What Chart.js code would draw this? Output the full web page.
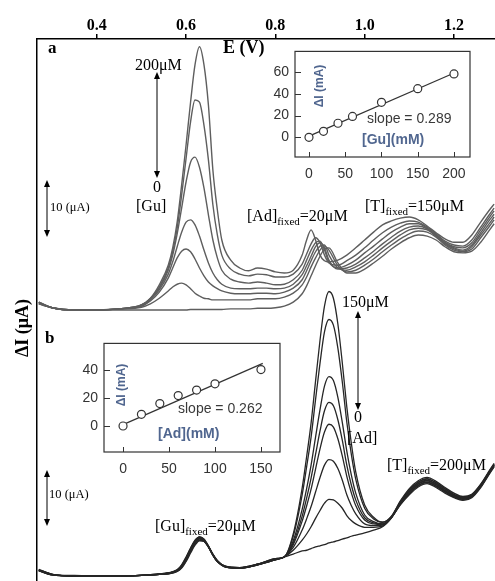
<!DOCTYPE html>
<html><head><meta charset="utf-8">
<script src="https://cdn.jsdelivr.net/npm/chart.js@4.4.1/dist/chart.umd.min.js"></script>
<style>
html,body{margin:0;padding:0;background:#fff;}
#wrap{position:relative;width:495px;height:581px;overflow:hidden;background:#fff;}
canvas{position:absolute;}
</style></head><body>
<div id="wrap">
<canvas id="main" width="495" height="581" style="left:0;top:0;width:495px;height:581px"></canvas>
<canvas id="insA" width="218" height="150" style="left:262px;top:37px;width:218px;height:150px"></canvas>
<canvas id="insB" width="219" height="153" style="left:71px;top:329px;width:219px;height:153px"></canvas>
</div>
<script>
// ---------- tick labels ----------
const eTicks = [0.4, 0.6, 0.8, 1.0, 1.2];
const insetAXTicks = [0, 50, 100, 150, 200];
const insetAYTicks = [0, 20, 40, 60];
const insetBXTicks = [0, 50, 100, 150];
const insetBYTicks = [0, 20, 40];

// ---------- panel a : potential (V) and ΔI (μA) for [Gu] additions ----------
const potentialA = [0.27,0.30,0.35,0.40,0.45,0.50,0.52,0.54,0.56,0.57,0.58,0.59,0.60,0.61,0.62,0.63,0.64,0.65,0.66,0.67,0.68,0.70,0.72,0.74,0.76,0.78,0.80,0.82,0.84,0.86,0.87,0.88,0.89,0.90,0.91,0.92,0.94,0.96,0.98,1.00,1.02,1.04,1.06,1.08,1.10,1.12,1.14,1.16,1.18,1.20,1.22,1.24,1.26,1.28,1.29];
const guLabels = ['0','20','40','60','100','150','200'];
const gu0   = [1.1,0.4,0,0,0,0,0,0,0,0,0,0,0,0.1,0.1,0.1,0.1,0.1,0.1,0.1,0.1,0.2,0.2,0.2,0.3,0.3,0.4,0.7,1.4,2.9,4.3,6.1,7.9,9.6,10.9,11.1,8.4,6.6,6.6,7.3,8.4,9.6,10.9,12.0,12.9,13.4,13.2,12.5,11.3,10.4,10.2,10.5,12.1,14.3,15.4];
const gu20  = [1.1,0.4,0,0,0.2,0.5,1.1,2.1,3.4,4.1,4.6,4.8,4.5,3.8,3.0,2.5,2.1,2.0,1.8,1.8,1.8,1.8,1.8,1.8,2.0,2.0,2.0,2.3,3.0,4.5,5.9,7.7,9.3,10.7,11.4,10.7,7.9,6.8,7.1,8.0,9.1,10.4,11.6,12.7,13.6,14.1,13.9,13.0,11.6,10.7,10.4,10.9,12.9,15.0,16.1];
const gu40  = [1.3,0.4,0,0,0.2,0.7,1.6,3.2,5.7,7.5,9.3,10.5,10.9,10.4,9.1,7.5,6.1,5.0,4.3,3.8,3.4,3.0,2.9,2.9,3.0,3.0,2.9,3.2,3.9,5.4,7.0,8.8,10.4,11.4,11.6,9.8,7.5,7.1,7.7,8.6,9.8,11.1,12.3,13.4,14.3,14.6,14.3,13.2,11.8,10.9,10.5,11.3,13.4,15.5,16.6];
const gu60  = [1.3,0.4,0,0,0.2,0.7,1.8,3.6,6.4,8.6,11.3,13.9,15.7,16.1,15.2,13.2,10.7,8.4,6.6,5.4,4.6,3.9,3.8,3.8,3.9,3.9,3.8,3.9,4.6,6.3,7.9,9.6,11.3,12.0,11.1,8.9,7.3,7.5,8.2,9.3,10.5,11.8,13.0,14.1,14.8,15.0,14.5,13.2,12.0,11.1,10.7,11.6,13.8,16.1,17.1];
const gu100 = [1.3,0.4,0,0,0.2,0.9,2.0,3.9,7.1,9.8,13.6,18.2,22.9,26.4,27.3,25.5,21.8,17.0,12.5,9.3,7.1,5.5,5.0,4.8,5.0,4.8,4.5,4.6,5.4,7.1,8.9,10.7,12.0,12.3,10.7,8.6,7.5,8.0,8.9,10.2,11.4,12.7,13.9,14.8,15.4,15.4,14.6,13.4,12.1,11.3,11.1,12.0,14.3,16.6,17.7];
const gu150 = [1.4,0.4,0,0,0.2,0.9,2.0,4.1,7.5,10.4,14.6,20.5,27.1,33.6,37.5,37.1,33.0,26.8,18.8,13.4,9.8,7.3,6.4,6.1,6.4,6.3,5.9,5.9,6.4,8.2,10.0,11.8,12.9,12.0,9.8,8.4,8.0,8.8,9.8,11.1,12.5,13.8,14.8,15.5,15.9,15.7,14.8,13.6,12.3,11.6,11.4,12.5,14.8,17.1,18.2];
const gu200 = [1.4,0.4,0,0,0.2,0.9,2.1,4.5,8.0,11.1,15.7,22.3,29.5,37.1,43.8,47.0,43.8,36.6,25.0,17.9,12.5,8.9,7.5,7.0,7.5,7.3,6.8,6.6,7.1,9.8,12.5,14.3,12.5,9.8,8.8,8.6,8.9,9.8,11.1,12.5,13.9,15.2,15.9,16.4,16.6,16.1,15.0,13.8,12.7,12.1,12.1,13.4,15.7,17.9,18.9];

// ---------- panel b : potential (V) and ΔI (μA) for [Ad] additions ----------
const potentialB = [0.27,0.30,0.35,0.40,0.45,0.50,0.54,0.56,0.58,0.59,0.60,0.61,0.62,0.63,0.64,0.65,0.66,0.67,0.69,0.72,0.76,0.80,0.82,0.84,0.86,0.87,0.88,0.89,0.90,0.91,0.92,0.93,0.94,0.95,0.96,0.97,0.98,1.00,1.02,1.04,1.06,1.08,1.10,1.12,1.14,1.16,1.18,1.20,1.22,1.24,1.26,1.28,1.29];
const adCurve1 = [0.9,0.2,0,0,0,0.1,0.3,0.4,0.8,1.4,2.6,4.1,5.5,6.3,6.2,5.3,3.9,2.8,1.6,1.4,2.0,2.9, 3.4,3.9,4.5,4.6,4.9,5.2,5.4,5.6,5.9,6.1,6.3,6.6,6.8,7.1,7.3,7.7,8.2,8.8,10.4, 12.7,14.5,15.9,16.5,15.8,14.8,14.0,13.5,14.0,15.8,18.3,19.5];
const adCurve2 = [0.9,0.2,0,0,0,0.1,0.3,0.4,0.8,1.5,2.7,4.3,5.7,6.4,6.2,5.2,3.8,2.7,1.6,1.4,2.0,2.9, 3.4,4.6,6.4,7.5,8.8,10.3,11.7,13.0,13.7,13.6,13.0,12.1,10.8,9.9,9.3,8.7,8.7,8.9,10.4, 12.8,14.7,16.1,16.7,16.0,15.0,14.1,13.6,14.1,15.9,18.4,19.6];
const adCurve3 = [1.0,0.2,0,0,0,0.1,0.3,0.4,0.9,1.6,2.9,4.5,5.9,6.6,6.3,5.2,3.8,2.7,1.6,1.4,2.0,2.9, 3.4,5.1,8.2,10.2,12.4,15.0,17.6,19.8,20.8,20.5,19.2,17.1,14.5,12.6,11.1,9.3,9.0,9.1,10.4, 12.9,14.8,16.2,16.8,16.1,15.1,14.2,13.7,14.2,16.0,18.5,19.7];
const adCurve4 = [1.0,0.2,0,0,0,0.1,0.3,0.5,0.9,1.7,3.0,4.6,6.0,6.7,6.3,5.2,3.7,2.6,1.6,1.4,2.0,3.0, 3.4,5.6,9.8,12.5,15.5,19.1,22.7,25.7,27.1,26.6,24.5,21.4,17.8,14.9,12.6,10.0,9.3,9.2,10.5, 13.0,15.0,16.4,17.0,16.3,15.2,14.3,13.8,14.3,16.1,18.6,19.8];
const adCurve5 = [1.0,0.3,0,0,0,0.1,0.3,0.5,1.0,1.8,3.1,4.7,6.1,6.8,6.4,5.2,3.7,2.6,1.6,1.5,2.1,3.0, 3.4,5.9,10.7,13.9,17.5,21.7,25.9,29.5,31.0,30.4,27.9,24.2,19.8,16.3,13.6,10.4,9.5,9.3,10.5, 13.1,15.1,16.5,17.1,16.4,15.3,14.4,13.9,14.3,16.1,18.6,19.8];
const adCurve6 = [1.1,0.3,0,0,0,0.1,0.3,0.5,1.0,1.8,3.2,4.8,6.2,6.9,6.5,5.3,3.8,2.6,1.6,1.5,2.1,3.0, 3.4,6.3,11.9,15.6,19.8,24.8,29.7,33.9,35.6,34.9,31.9,27.4,22.3,18.1,14.8,10.9,9.7,9.3,10.5, 13.2,15.3,16.7,17.3,16.6,15.5,14.5,14.0,14.4,16.2,18.7,19.9];
const adCurve7 = [1.1,0.3,0,0,0,0.1,0.4,0.5,1.1,1.9,3.3,4.9,6.3,7.0,6.5,5.3,3.8,2.6,1.7,1.5,2.1,3.1, 3.4,7.1,14.5,19.5,24.8,31.5,38.0,43.6,45.8,44.8,40.7,34.6,27.5,21.8,17.3,12.1,10.2,9.6,10.6, 13.3,15.4,16.8,17.4,16.7,15.6,14.6,14.1,14.5,16.3,18.8,20.0];
const adCurve8 = [1.2,0.3,0.1,0,0,0.1,0.4,0.6,1.1,2.0,3.4,5.0,6.4,7.0,6.6,5.4,3.9,2.7,1.7,1.5,2.1,3.1, 3.4,7.5,15.7,21.3,27.3,34.8,42.1,48.2,50.8,49.6,45.0,38.0,30.2,23.8,18.6,12.7,10.5,9.6,10.7, 13.4,15.6,17.0,17.6,16.9,15.8,14.8,14.2,14.6,16.4,18.9,20.1];

// ---------- insets: calibration points ----------
const guConc = [0, 20, 40, 60, 100, 150, 200];
const guDI   = [0, 5.5, 12.9, 19.2, 32.1, 44.7, 58.2];
const guFitX = [0, 205];
const guFitY = [1.1, 60.4];
const adConc = [0, 20, 40, 60, 80, 100, 150];
const adDI   = [0, 8.4, 16.1, 21.9, 25.8, 30.3, 40.6];
const adFitX = [0, 152];
const adFitY = [1.0, 45.0];

// ================================================================
const SERIF = '"Liberation Serif","Times New Roman",serif';
const SANS = '"Liberation Sans",Arial,sans-serif';
const pts = (xs, ys) => xs.map((x, i) => ({x: x, y: ys[i]}));

const datasets = [];
const guSeries = [gu0, gu20, gu40, gu60, gu100, gu150, gu200];
guSeries.forEach((arr, k) => datasets.push({
  label: '[Gu] ' + guLabels[k] + ' μM', data: pts(potentialA, arr), yAxisID: 'ya',
  borderColor: '#5e5e5e', borderWidth: 1.4, pointRadius: 0, cubicInterpolationMode: 'monotone', fill: false
}));
const adSeries = [adCurve1, adCurve2, adCurve3, adCurve4, adCurve5, adCurve6, adCurve7, adCurve8];
adSeries.forEach((arr, k) => datasets.push({
  label: '[Ad] curve ' + (k + 1), data: pts(potentialB, arr), yAxisID: 'yb',
  borderColor: '#262626', borderWidth: 1.3, pointRadius: 0, cubicInterpolationMode: 'monotone', fill: false
}));

function vArrow(c, x, yTop, yBot) {
  const h = 7, w = 3;
  c.lineWidth = 1;
  c.beginPath(); c.moveTo(x, yTop + h - 1); c.lineTo(x, yBot - h + 1); c.stroke();
  c.beginPath(); c.moveTo(x, yTop); c.lineTo(x - w, yTop + h); c.lineTo(x + w, yTop + h); c.closePath(); c.fill();
  c.beginPath(); c.moveTo(x, yBot); c.lineTo(x - w, yBot - h); c.lineTo(x + w, yBot - h); c.closePath(); c.fill();
}
function subText(c, x, y, main1, sub, main2) {
  c.textAlign = 'left'; c.textBaseline = 'alphabetic';
  c.font = '16px ' + SERIF; c.fillText(main1, x, y); x += c.measureText(main1).width;
  c.font = '11px ' + SERIF; c.fillText(sub, x, y + 4); x += c.measureText(sub).width;
  c.font = '16px ' + SERIF; c.fillText(main2, x, y);
}

const annot = {
  id: 'annot',
  afterDraw(chart) {
    const c = chart.ctx;
    c.save();
    c.fillStyle = '#000'; c.strokeStyle = '#000';
    c.textBaseline = 'alphabetic'; c.textAlign = 'left';
    c.font = 'bold 18px ' + SERIF; c.fillText('E (V)', 223, 53);
    c.font = 'bold 17px ' + SERIF; c.fillText('a', 48, 53); c.fillText('b', 45, 343);
    c.save(); c.translate(28, 328); c.rotate(-Math.PI / 2);
    c.textAlign = 'center'; c.font = 'bold 18px ' + SERIF; c.fillText('ΔI (μA)', 0, 0); c.restore();
    vArrow(c, 157, 72, 178);
    vArrow(c, 47, 180, 237);
    vArrow(c, 358, 311, 410);
    vArrow(c, 47, 470, 526);
    c.font = '16px ' + SERIF; c.textAlign = 'left';
    c.fillText('200μM', 135, 70);
    c.fillText('[Gu]', 136, 211);
    c.fillText('150μM', 342, 307);
    c.fillText('[Ad]', 347, 443);
    c.textAlign = 'center';
    c.fillText('0', 157, 192);
    c.fillText('0', 358, 422);
    c.textAlign = 'left'; c.font = '12.5px ' + SERIF;
    c.fillText('10 (μA)', 50, 211);
    c.fillText('10 (μA)', 49, 498);
    subText(c, 247, 221, '[Ad]', 'fixed', '=20μM');
    subText(c, 365, 211, '[T]', 'fixed', '=150μM');
    subText(c, 387, 470, '[T]', 'fixed', '=200μM');
    subText(c, 155, 531, '[Gu]', 'fixed', '=20μM');
    c.restore();
  }
};

new Chart(document.getElementById('main'), {
  type: 'line',
  data: {datasets: datasets},
  options: {
    responsive: false, animation: false, devicePixelRatio: 1,
    layout: {padding: 0},
    plugins: {legend: {display: false}, tooltip: {enabled: false}},
    scales: {
      x: {
        type: 'linear', position: 'top', min: 0.266, max: 1.292,
        afterFit(s) { s.height = 39; },
        afterBuildTicks(s) { s.ticks = eTicks.map(v => ({value: v})); },
        ticks: {callback: v => Number(v).toFixed(1), font: {family: SERIF, size: 16, weight: 'bold'}, color: '#000', padding: -1, maxRotation: 0, autoSkip: false},
        grid: {display: true, drawOnChartArea: false, drawTicks: true, tickLength: 5, color: '#000', lineWidth: 1.5},
        border: {display: true, color: '#000', width: 1.5}
      },
      ya: {
        type: 'linear', position: 'left', min: -48.39, max: 48.39,
        afterFit(s) { s.width = 37; },
        ticks: {display: false}, grid: {display: false, drawTicks: false},
        border: {display: true, color: '#000', width: 1.5}
      },
      yb: {type: 'linear', position: 'left', display: false, min: -0.89, max: 95.89}
    }
  },
  plugins: [annot]
});

// ---------- insets ----------
function insetPlugin(cfg) {
  return {
    id: 'insetDeco',
    afterDraw(chart) {
      const c = chart.ctx, a = chart.chartArea;
      const xs = chart.scales.x, ys = chart.scales.y;
      c.save();
      c.strokeStyle = '#333'; c.lineWidth = 1.2;
      c.strokeRect(a.left, a.top, a.right - a.left, a.bottom - a.top);
      c.lineWidth = 1;
      cfg.xTicks.forEach(v => { const p = Math.round(xs.getPixelForValue(v)) + 0.5; c.beginPath(); c.moveTo(p, a.bottom); c.lineTo(p, a.bottom - 5); c.stroke(); });
      cfg.yTicks.forEach(v => { const p = Math.round(ys.getPixelForValue(v)) + 0.5; c.beginPath(); c.moveTo(a.left, p); c.lineTo(a.left + 6, p); c.stroke(); });
      c.textBaseline = 'middle'; c.textAlign = 'left';
      c.fillStyle = '#3a3a3a'; c.font = '14px ' + SANS;
      c.fillText(cfg.slope, cfg.slopeX, cfg.slopeY);
      c.fillStyle = '#50668f'; c.font = 'bold 14px ' + SANS;
      c.fillText(cfg.xTitle, cfg.xtX, cfg.xtY);
      c.save(); c.translate(cfg.ytX, cfg.ytY); c.rotate(-Math.PI / 2);
      c.textAlign = 'center'; c.font = 'bold 12px ' + SANS; c.fillText('ΔI (mA)', 0, 0); c.restore();
      c.restore();
    }
  };
}
function makeInset(id, conc, di, fx, fy, xr, yr, xTicks, yTicks, deco) {
  new Chart(document.getElementById(id), {
    type: 'scatter',
    data: {datasets: [
      {label: 'points', data: pts(conc, di), showLine: false, pointRadius: 4, pointStyle: 'circle',
       pointBackgroundColor: '#fff', pointBorderColor: '#333', pointBorderWidth: 1.2, order: 0},
      {label: 'fit', data: pts(fx, fy), showLine: true, pointRadius: 0, borderColor: '#333', borderWidth: 1.2, order: 1}
    ]},
    options: {
      responsive: false, animation: false, devicePixelRatio: 1,
      layout: {padding: {top: 2, right: 10, left: 0, bottom: 0}},
      plugins: {legend: {display: false}, tooltip: {enabled: false}},
      scales: {
        x: {type: 'linear', min: xr[0], max: xr[1],
            afterFit(s) { s.height = 30; },
            afterBuildTicks(s) { s.ticks = xTicks.map(v => ({value: v})); },
            ticks: {font: {family: SANS, size: 14}, color: '#333', padding: 9, maxRotation: 0, autoSkip: false},
            grid: {display: false, drawTicks: false}, border: {display: false}},
        y: {type: 'linear', min: yr[0], max: yr[1],
            afterFit(s) { s.width = 33; },
            afterBuildTicks(s) { s.ticks = yTicks.map(v => ({value: v})); },
            ticks: {font: {family: SANS, size: 14}, color: '#333', padding: 6, autoSkip: false},
            grid: {display: false, drawTicks: false}, border: {display: false}}
      }
    },
    plugins: [insetPlugin(deco)]
  });
}
makeInset('insA', guConc, guDI, guFitX, guFitY, [-19.3, 222.1], [-18.1, 78.9], insetAXTicks, insetAYTicks,
  {xTicks: insetAXTicks, yTicks: insetAYTicks, slope: 'slope = 0.289', slopeX: 105, slopeY: 82,
   xTitle: '[Gu](mM)', xtX: 100, xtY: 103.5, ytX: 58, ytY: 49});
makeInset('insB', adConc, adDI, adFitX, adFitY, [-20.7, 170.7], [-18.7, 59.4], insetBXTicks, insetBYTicks,
  {xTicks: insetBXTicks, yTicks: insetBYTicks, slope: 'slope = 0.262', slopeX: 107, slopeY: 80,
   xTitle: '[Ad](mM)', xtX: 87, xtY: 105, ytX: 51, ytY: 56});
</script>
</body></html>
